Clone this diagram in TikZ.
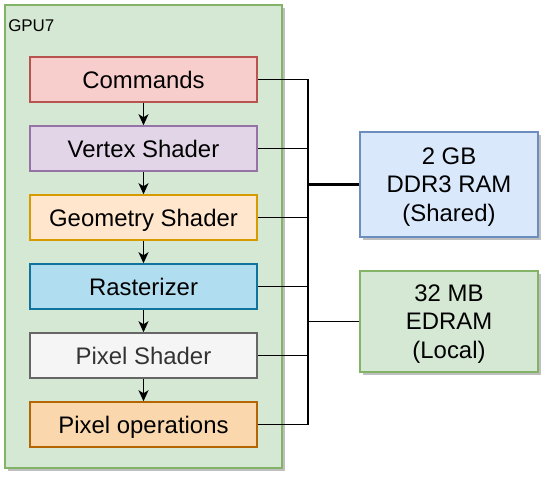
\documentclass[tikz,border=0pt]{standalone}
\usepackage{fontspec}
\setmainfont{Liberation Sans}
\usetikzlibrary{arrows.meta,shadows}

\definecolor{groupfill}{HTML}{D5E8D4}
\definecolor{groupline}{HTML}{82B366}
\definecolor{cmdfill}{HTML}{F8CECC}
\definecolor{cmdline}{HTML}{B85450}
\definecolor{vtxfill}{HTML}{E1D5E7}
\definecolor{vtxline}{HTML}{9673A6}
\definecolor{geofill}{HTML}{FFE6CC}
\definecolor{geoline}{HTML}{D79B00}
\definecolor{rasfill}{HTML}{B1DDF0}
\definecolor{rasline}{HTML}{10739E}
\definecolor{pixfill}{HTML}{F5F5F5}
\definecolor{pixline}{HTML}{666666}
\definecolor{pixtext}{HTML}{333333}
\definecolor{ropfill}{HTML}{FAD7AC}
\definecolor{ropline}{HTML}{B46504}
\definecolor{ramfill}{HTML}{DAE8FC}
\definecolor{ramline}{HTML}{6C8EBF}

\tikzset{
	boxshadow/.style={drop shadow={shadow xshift=3bp, shadow yshift=-3bp, fill=black!25, opacity=1}},
}

\begin{document}
\begin{tikzpicture}[x=1bp, y=-1bp,
		every node/.style={font=\fontsize{24}{28.5}\selectfont, inner sep=0pt, align=center, line width=1.5bp},
		stage/.style={draw, minimum width=227bp, minimum height=45bp, text height=17.2bp, text depth=0pt},
		memory/.style={draw, boxshadow, minimum width=178bp, text depth=0pt},
		flow/.style={-{Stealth[length=11bp, width=10bp, inset=3bp]}, line width=1.5bp},
		bus/.style={line width=1.5bp}]
	% \draw[help lines] (0,0) grid[step=20] (548,479);
	\useasboundingbox (0,0) rectangle (548,479);

	\node[draw=groupline, fill=groupfill, boxshadow, minimum width=277bp, minimum height=463bp] (gpu) at (143.5,236.5) {};
	\node[anchor=base west, font=\fontsize{17}{20}\selectfont] (gpulabel) at (7.5,32) {GPU7};

	\node[stage, draw=cmdline, fill=cmdfill] (commands) at (143.5,79.5) {Commands};
	\node[stage, draw=vtxline, fill=vtxfill] (vertex) at (143.5,148.5) {Vertex Shader};
	\node[stage, draw=geoline, fill=geofill] (geometry) at (143.5,217.5) {Geometry Shader};
	\node[stage, draw=rasline, fill=rasfill] (raster) at (143.5,286.5) {Rasterizer};
	\node[stage, draw=pixline, fill=pixfill, text=pixtext] (pixel) at (143.5,355.5) {Pixel Shader};
	\node[stage, draw=ropline, fill=ropfill] (pixelops) at (143.5,424.5) {Pixel operations};

	\draw[flow] (commands) -- (vertex);
	\draw[flow] (vertex) -- (geometry);
	\draw[flow] (geometry) -- (raster);
	\draw[flow] (raster) -- (pixel);
	\draw[flow] (pixel) -- (pixelops);

	\node[memory, draw=ramline, fill=ramfill, minimum height=105bp] (ddr) at (449,184.5) {2 GB\\DDR3 RAM\\(Shared)};
	\node[memory, draw=groupline, fill=groupfill, minimum height=101bp] (edram) at (449,321.5) {32 MB\\EDRAM\\(Local)};

	\coordinate (bus) at (308,0);
	\foreach \n in {commands,vertex,geometry,raster,pixel,pixelops}
		\draw[bus] (\n.east) -- (\n.east -| bus);
	\draw[bus] (commands.east -| bus) -- (pixelops.east -| bus);
	\draw[bus, line width=2.5bp] (ddr.west) -- (ddr.west -| bus);
	\draw[bus] (edram.west) -- (edram.west -| bus);
\end{tikzpicture}
\end{document}
